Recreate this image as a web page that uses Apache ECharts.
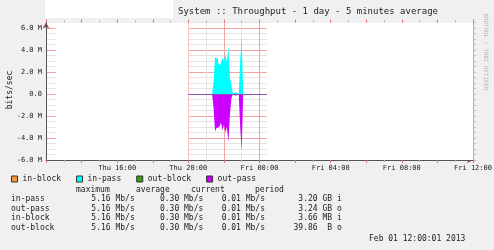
<!DOCTYPE html>
<html>
<head>
<meta charset="utf-8">
<script src="https://cdn.jsdelivr.net/npm/echarts@6/dist/echarts.min.js"></script>
<style>
html, body { margin: 0; padding: 0; background: #f0f0f0; }
#chart-container { width: 494px; height: 250px; }
</style>
</head>
<body>
<div id="chart-container"></div>
<script>
// hours after Thu 12:00, one sample every 5 minutes starting Thu 20:00
var sampleStart = 8;
var sampleStep = 1 / 12;
var seriesNames = ['in-block', 'in-pass', 'out-block', 'out-pass'];
var seriesColors = ['#f7963c', '#00ffff', '#3a9a0a', '#cc00ff'];

// Mbit/s
var inPass = [0, 0, 0, 0, 0, 0, 0, 0, 0, 0, 0, 0, 0, 0, 0, 0, 0,
  1.1, 3.35, 3.2, 2.9, 2.6, 2.8, 3.3, 3.0, 3.6, 2.9, 4.4, 1.5, 0.8, 0.05, 0.15, 0, 0, 0, 3.1, 5.16,
  0, 0, 0, 0, 0, 0, 0, 0, 0, 0, 0, 0, 0, 0, 0, 0];
var outPass = [0, 0, 0, 0, 0, 0, 0, 0, 0, 0, 0, 0, 0, 0, 0, 0, 0,
  -1.2, -3.4, -3.1, -3.0, -3.1, -2.6, -3.3, -2.8, -3.5, -3.0, -4.4, -2.0, -0.4, -0.05, -0.15, 0, 0, 0, -3.1, -5.16,
  0, 0, 0, 0, 0, 0, 0, 0, 0, 0, 0, 0, 0, 0, 0, 0];
var inBlock = [0, 0, 0, 0, 0, 0, 0, 0, 0, 0, 0, 0, 0, 0, 0, 0, 0, 0, 0, 0, 0, 0, 0, 0, 0, 0, 0,
  0, 0, 0, 0, 0, 0, 0, 0, 0, 0, 0, 0, 0, 0, 0, 0, 0, 0, 0, 0, 0, 0, 0, 0, 0, 0];
var outBlock = inBlock.slice();

var xTickLabels = ['Thu 12:00', 'Thu 16:00', 'Thu 20:00', 'Fri 00:00', 'Fri 04:00', 'Fri 08:00', 'Fri 12:00'];

var statHeads = ['maximum', 'average', 'current', 'period'];
var statRows = ['in-pass', 'out-pass', 'in-block', 'out-block'];
var statMax = ['5.16 Mb/s', '5.16 Mb/s', '5.16 Mb/s', '5.16 Mb/s'];
var statAvg = ['0.30 Mb/s', '0.30 Mb/s', '0.30 Mb/s', '0.30 Mb/s'];
var statCur = ['0.01 Mb/s', '0.01 Mb/s', '0.01 Mb/s', '0.01 Mb/s'];
var statPeriod = ['3.20 GB i', '3.24 GB o', '3.66 MB i', '39.86  B o'];

var titleText = 'System :: Throughput - 1 day - 5 minutes average';
var dateText = 'Feb 01 12:00:01 2013';

var mono = '"DejaVu Sans Mono", monospace';
var majorGrid = '#f2a4a4';
var minorGrid = '#e4e4e4';
var textColor = '#222';

var dom = document.getElementById('chart-container');
var myChart = echarts.init(dom, null, { renderer: 'canvas' });

var sampleEnd = sampleStart + inPass.length * sampleStep;
var maskLead = 0.55;

function toPoints(values) {
  var pts = values.map(function (v, i) { return [sampleStart + i * sampleStep, v]; });
  pts.push([sampleEnd, values[values.length - 1]]);
  return pts;
}

function areaSeries(name, color, values, extra) {
  var s = {
    name: name,
    type: 'line',
    step: 'end',
    showSymbol: false,
    symbol: 'none',
    xAxisIndex: 0,
    yAxisIndex: 0,
    lineStyle: { width: 0, color: color },
    itemStyle: { color: color },
    areaStyle: { color: color, opacity: 1 },
    emphasis: { disabled: true },
    silent: true,
    data: toPoints(values)
  };
  for (var k in extra) s[k] = extra[k];
  return s;
}

var graphics = [
  { type: 'rect', shape: { x: 45, y: 0, width: 128, height: 18 }, style: { fill: '#fff' } },
  { type: 'text', x: 308, y: 12, style: { text: titleText, font: '9px ' + mono, fill: textColor, textAlign: 'center', textVerticalAlign: 'middle' } },
  { type: 'text', x: 10, y: 90, rotation: Math.PI / 2, style: { text: 'bits/sec', font: '8px ' + mono, fill: textColor, textAlign: 'center', textVerticalAlign: 'middle' } },
  { type: 'text', x: 486, y: 52, rotation: -Math.PI / 2, style: { text: 'RRDTOOL / TOBI OETIKER', font: '5.8px ' + mono, fill: '#b4b4b4', textAlign: 'center', textVerticalAlign: 'middle' } },
  { type: 'text', x: 369, y: 239, style: { text: dateText, font: '8px ' + mono, fill: textColor, textAlign: 'left', textVerticalAlign: 'middle' } }
];
var headX = [76, 136, 191, 255];
statHeads.forEach(function (h, i) {
  graphics.push({ type: 'text', x: headX[i], y: 190, style: { text: h, font: '8px ' + mono, fill: textColor, textAlign: 'left', textVerticalAlign: 'middle' } });
});
var colRight = [134.7, 203.3, 265, 341.7];
statRows.forEach(function (r, i) {
  var y = 199.3 + i * 9.55;
  graphics.push({ type: 'text', x: 11, y: y, style: { text: r, font: '8px ' + mono, fill: textColor, textAlign: 'left', textVerticalAlign: 'middle' } });
  [statMax, statAvg, statCur, statPeriod].forEach(function (col, j) {
    graphics.push({ type: 'text', x: colRight[j], y: y, style: { text: col[i], font: '8px ' + mono, fill: textColor, textAlign: 'right', textVerticalAlign: 'middle' } });
  });
});

function hiddenBits() {
  return { axisLabel: { show: false }, axisTick: { show: false }, minorTick: { show: false } };
}
function merge(a, b) { for (var k in b) a[k] = b[k]; return a; }

option = {
  backgroundColor: '#f0f0f0',
  animation: false,
  grid: {
    left: 46, right: 21, top: 22.5, bottom: 90,
    show: true, backgroundColor: '#fff', borderWidth: 0,
    outerBoundsMode: 'none'
  },
  legend: {
    data: seriesNames,
    left: 11, top: 175, padding: 0,
    icon: 'rect', itemWidth: 6, itemHeight: 6, itemGap: 15,
    itemStyle: { borderColor: '#333', borderWidth: 1 },
    selectedMode: false,
    textStyle: { fontFamily: mono, fontSize: 8, color: textColor }
  },
  xAxis: [
    {
      type: 'value', min: 0, max: 24, interval: 2, position: 'bottom', z: 5,
      axisLine: { show: true, onZero: false, lineStyle: { color: '#555', width: 1 } },
      axisTick: { show: true, length: 3, lineStyle: { color: '#e07070' } },
      minorTick: { show: true, splitNumber: 2, length: 2, lineStyle: { color: '#b0b0b0' } },
      splitLine: { show: false },
      axisLabel: {
        showMinLabel: false, margin: 5, fontFamily: mono, fontSize: 7, color: textColor,
        formatter: function (v) { return v % 4 === 0 ? xTickLabels[v / 4] : ''; }
      }
    },
    merge({
      type: 'value', min: 0, max: 24, interval: 1, position: 'bottom', z: 0,
      axisLine: { show: false, onZero: false },
      splitLine: { show: true, lineStyle: { color: minorGrid, width: 1 } }
    }, hiddenBits()),
    merge({
      type: 'value', min: 0, max: 24, interval: 2, position: 'bottom', z: 0,
      axisLine: { show: true, onZero: false, symbol: ['none', 'arrow'], symbolSize: [5, 6], lineStyle: { color: '#c83030', width: 0 } },
      splitLine: { show: true, lineStyle: { color: majorGrid, width: 1 } }
    }, hiddenBits()),
    {
      type: 'value', min: 0, max: 24, interval: 2, position: 'top', z: 5,
      axisLine: { show: false, onZero: false },
      axisTick: { show: true, length: 3, lineStyle: { color: '#e07070' } },
      minorTick: { show: true, splitNumber: 2, length: 2, lineStyle: { color: '#b0b0b0' } },
      axisLabel: { show: false },
      splitLine: { show: false }
    }
  ],
  yAxis: [
    {
      type: 'value', min: -6, max: 6.5, interval: 2, position: 'left', z: 5,
      axisLine: { show: true, onZero: false, lineStyle: { color: '#555', width: 1 } },
      axisTick: { show: false },
      splitLine: { show: false },
      axisLabel: {
        showMaxLabel: false, margin: 4, fontFamily: mono, fontSize: 7, color: textColor,
        formatter: function (v) { return v === 0 ? '0.0' : v.toFixed(1) + ' M'; }
      }
    },
    merge({
      type: 'value', min: -6, max: 6.5, interval: 0.5, position: 'left', z: 0,
      axisLine: { show: false, onZero: false },
      splitLine: { show: true, lineStyle: { color: minorGrid, width: 1 } }
    }, hiddenBits()),
    merge({
      type: 'value', min: -6, max: 6.5, interval: 2, position: 'left', z: 0,
      axisLine: { show: true, onZero: false, symbol: ['none', 'arrow'], symbolSize: [5, 6], lineStyle: { color: '#c83030', width: 0 } },
      splitLine: { show: true, showMaxLine: false, lineStyle: { color: majorGrid, width: 1 } }
    }, hiddenBits()),
    {
      type: 'value', min: -6, max: 6.5, interval: 0.5, position: 'right', z: 5,
      axisLine: { show: true, onZero: false, lineStyle: { color: '#ee9a9a' } },
      axisTick: { show: true, length: 3, lineStyle: { color: '#e0b0b0' } },
      axisLabel: { show: false },
      splitLine: { show: false }
    }
  ],
  series: [
    areaSeries(seriesNames[0], seriesColors[0], inBlock, {
      markArea: {
        silent: true,
        itemStyle: { color: '#fff', opacity: 1 },
        label: { show: false },
        data: [
          [{ xAxis: maskLead }, { xAxis: sampleStart }],
          [{ xAxis: sampleEnd }, { xAxis: 24 }]
        ]
      }
    }),
    areaSeries(seriesNames[1], seriesColors[1], inPass, {}),
    areaSeries(seriesNames[2], seriesColors[2], outBlock, {}),
    areaSeries(seriesNames[3], seriesColors[3], outPass, {
      markLine: {
        silent: true,
        symbol: ['none', 'none'],
        label: { show: false },
        lineStyle: { color: '#9050b0', width: 1, type: 'solid' },
        data: [[{ coord: [sampleStart, 0] }, { coord: [sampleEnd, 0] }]]
      }
    })
  ],
  graphic: graphics
};

if (option && typeof option === 'object') {
  myChart.setOption(option);
}

window.addEventListener('resize', myChart.resize);
</script>
</body>
</html>
